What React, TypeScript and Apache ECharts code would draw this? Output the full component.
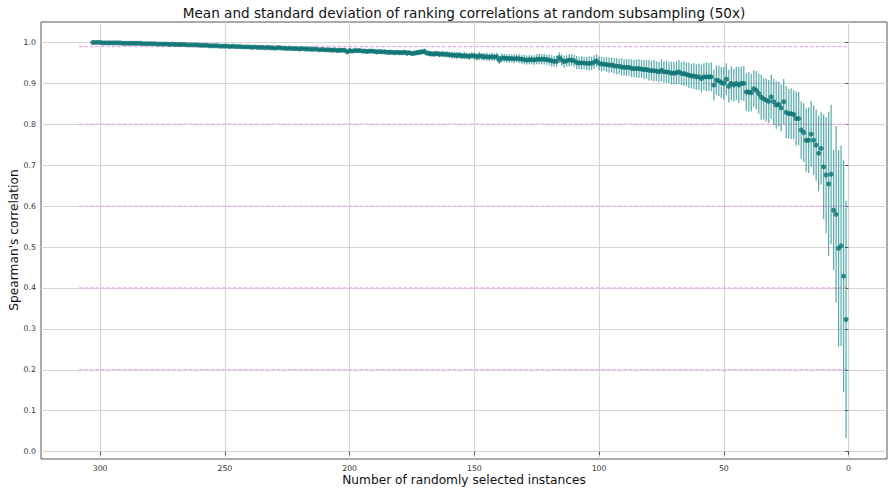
import React, { useEffect, useRef } from "react";
import * as echarts from "echarts";

// Subsample sizes: 1 .. 303 randomly selected instances
const sampleSizes: number[] = Array.from({ length: 303 }, (_, i) => i + 1);

// Mean Spearman correlation per subsample size (index 0 -> size 1)
const meanCorr: number[] = [
  0.323, 0.429, 0.503, 0.497, 0.580, 0.590, 0.678, 0.654, 0.676, 0.696,
  0.741, 0.729, 0.749, 0.761, 0.776, 0.761, 0.761, 0.780, 0.786, 0.814,
  0.814, 0.824, 0.826, 0.826, 0.829, 0.855, 0.840, 0.849, 0.847, 0.855,
  0.867, 0.856, 0.859, 0.862, 0.866, 0.875, 0.883, 0.887, 0.877, 0.879,
  0.879, 0.900, 0.900, 0.896, 0.900, 0.896, 0.900, 0.893, 0.910, 0.900,
  0.902, 0.906, 0.908, 0.896, 0.916, 0.916, 0.916, 0.916, 0.912, 0.916,
  0.916, 0.918, 0.918, 0.920, 0.922, 0.924, 0.924, 0.928, 0.926, 0.925,
  0.925, 0.927, 0.928, 0.928, 0.932, 0.928, 0.930, 0.931, 0.931, 0.932,
  0.934, 0.934, 0.935, 0.936, 0.936, 0.936, 0.937, 0.939, 0.939, 0.939,
  0.940, 0.942, 0.942, 0.943, 0.945, 0.945, 0.946, 0.947, 0.947, 0.949,
  0.955, 0.952, 0.949, 0.949, 0.949, 0.950, 0.950, 0.950, 0.951, 0.955,
  0.957, 0.957, 0.955, 0.953, 0.957, 0.963, 0.954, 0.954, 0.955, 0.957,
  0.958, 0.959, 0.959, 0.959, 0.959, 0.957, 0.958, 0.958, 0.957, 0.958,
  0.959, 0.960, 0.961, 0.960, 0.961, 0.961, 0.961, 0.962, 0.962, 0.957,
  0.965, 0.964, 0.965, 0.964, 0.965, 0.965, 0.966, 0.967, 0.965, 0.967,
  0.968, 0.966, 0.967, 0.968, 0.967, 0.969, 0.968, 0.969, 0.969, 0.970,
  0.971, 0.971, 0.972, 0.971, 0.973, 0.972, 0.972, 0.973, 0.974, 0.978,
  0.977, 0.976, 0.975, 0.974, 0.973, 0.975, 0.974, 0.976, 0.975, 0.975,
  0.976, 0.975, 0.976, 0.976, 0.976, 0.977, 0.977, 0.978, 0.977, 0.978,
  0.979, 0.979, 0.978, 0.979, 0.979, 0.980, 0.980, 0.980, 0.979, 0.980,
  0.977, 0.981, 0.981, 0.981, 0.980, 0.982, 0.981, 0.982, 0.982, 0.982,
  0.983, 0.982, 0.983, 0.984, 0.983, 0.984, 0.984, 0.984, 0.985, 0.984,
  0.985, 0.985, 0.985, 0.986, 0.985, 0.986, 0.986, 0.987, 0.987, 0.986,
  0.987, 0.987, 0.988, 0.987, 0.988, 0.988, 0.988, 0.989, 0.988, 0.989,
  0.989, 0.989, 0.989, 0.990, 0.990, 0.990, 0.991, 0.990, 0.991, 0.991,
  0.991, 0.991, 0.992, 0.992, 0.992, 0.992, 0.993, 0.993, 0.993, 0.993,
  0.994, 0.994, 0.994, 0.994, 0.994, 0.995, 0.995, 0.995, 0.995, 0.995,
  0.996, 0.995, 0.996, 0.996, 0.996, 0.996, 0.996, 0.997, 0.997, 0.997,
  0.997, 0.997, 0.997, 0.998, 0.998, 0.998, 0.998, 0.998, 0.998, 0.998,
  0.998, 0.999, 0.999, 0.999, 0.999, 0.999, 0.999, 0.999, 0.999, 1.000,
  1.000, 1.000, 1.000,
];

// Standard deviation over the 50 repetitions (index 0 -> size 1)
const stdCorr: number[] = [
  0.290, 0.283, 0.245, 0.240, 0.216, 0.147, 0.170, 0.176, 0.142, 0.128,
  0.088, 0.092, 0.087, 0.085, 0.081, 0.080, 0.078, 0.072, 0.070, 0.065,
  0.066, 0.060, 0.062, 0.060, 0.064, 0.056, 0.057, 0.055, 0.058, 0.056,
  0.054, 0.052, 0.053, 0.050, 0.055, 0.049, 0.047, 0.045, 0.046, 0.048,
  0.046, 0.043, 0.042, 0.044, 0.041, 0.040, 0.042, 0.040, 0.039, 0.040,
  0.038, 0.037, 0.036, 0.038, 0.035, 0.034, 0.035, 0.033, 0.034, 0.032,
  0.031, 0.032, 0.030, 0.031, 0.029, 0.030, 0.028, 0.029, 0.028, 0.027,
  0.028, 0.026, 0.027, 0.026, 0.027, 0.025, 0.024, 0.026, 0.024, 0.025,
  0.023, 0.024, 0.022, 0.023, 0.022, 0.021, 0.022, 0.020, 0.021, 0.020,
  0.021, 0.019, 0.020, 0.019, 0.018, 0.019, 0.018, 0.017, 0.018, 0.017,
  0.016, 0.017, 0.016, 0.017, 0.016, 0.015, 0.016, 0.015, 0.016, 0.015,
  0.014, 0.015, 0.014, 0.015, 0.014, 0.013, 0.014, 0.013, 0.014, 0.013,
  0.012, 0.013, 0.012, 0.013, 0.012, 0.012, 0.011, 0.012, 0.011, 0.012,
  0.011, 0.011, 0.010, 0.011, 0.010, 0.011, 0.010, 0.010, 0.011, 0.010,
  0.010, 0.009, 0.010, 0.009, 0.010, 0.009, 0.009, 0.010, 0.009, 0.009,
  0.008, 0.009, 0.008, 0.009, 0.008, 0.008, 0.009, 0.008, 0.008, 0.007,
  0.008, 0.007, 0.008, 0.007, 0.007, 0.008, 0.007, 0.007, 0.006, 0.007,
  0.006, 0.007, 0.006, 0.007, 0.006, 0.006, 0.007, 0.006, 0.006, 0.006,
  0.005, 0.006, 0.005, 0.006, 0.005, 0.006, 0.005, 0.005, 0.006, 0.005,
  0.005, 0.005, 0.005, 0.005, 0.004, 0.005, 0.004, 0.005, 0.004, 0.005,
  0.005, 0.004, 0.004, 0.005, 0.004, 0.004, 0.004, 0.004, 0.004, 0.004,
  0.004, 0.003, 0.004, 0.003, 0.004, 0.003, 0.004, 0.003, 0.003, 0.004,
  0.003, 0.003, 0.003, 0.003, 0.003, 0.003, 0.003, 0.003, 0.003, 0.003,
  0.003, 0.002, 0.003, 0.002, 0.003, 0.002, 0.003, 0.002, 0.002, 0.003,
  0.002, 0.002, 0.002, 0.002, 0.002, 0.002, 0.002, 0.002, 0.002, 0.002,
  0.002, 0.002, 0.002, 0.002, 0.002, 0.002, 0.002, 0.002, 0.001, 0.002,
  0.001, 0.001, 0.001, 0.001, 0.001, 0.001, 0.001, 0.001, 0.001, 0.001,
  0.001, 0.001, 0.001, 0.001, 0.001, 0.001, 0.001, 0.001, 0.001, 0.001,
  0.001, 0.001, 0.001, 0.001, 0.001, 0.001, 0.001, 0.001, 0.001, 0.001,
  0.001, 0.001, 0.001, 0.001, 0.001, 0.001, 0.001, 0.001, 0.001, 0.000,
  0.000, 0.000, 0.000,
];

// Reference levels drawn as dashed guides, and their horizontal span
const guideLevels: number[] = [0.99, 0.8, 0.6, 0.4, 0.2];
const guideSpan: number[] = [308.5, 0];

// Tick values
const xTicks: number[] = [300, 250, 200, 150, 100, 50, 0];
const yTicks: number[] = [0, 0.1, 0.2, 0.3, 0.4, 0.5, 0.6, 0.7, 0.8, 0.9, 1.0];

const FONT = "DejaVu Sans";

export default function App() {
  const ref = useRef<HTMLDivElement>(null);

  useEffect(() => {
    if (!ref.current) return;
    const chart = echarts.init(ref.current, undefined, { renderer: "svg" });

    const points = sampleSizes.map((n, i) => [n, meanCorr[i]]);
    const bars = sampleSizes.map((n, i) => [
      n,
      meanCorr[i] - stdCorr[i],
      meanCorr[i] + stdCorr[i],
    ]);

    const guideSeries = guideLevels.map((lvl) => ({
      type: "line",
      data: guideSpan.map((x) => [x, lvl]),
      symbol: "none",
      silent: true,
      z: 1,
      lineStyle: { color: "#e9b2e9", width: 1.5, type: [3.5, 2] },
    }));

    chart.setOption({
      animation: false,
      backgroundColor: "#ffffff",
      graphic: [
        {
          type: "text",
          x: 464,
          y: 13,
          style: {
            text: "Mean and standard deviation of ranking correlations at random subsampling (50x)",
            font: `13.6px "${FONT}"`,
            fill: "#111",
            textAlign: "center",
            textVerticalAlign: "middle",
          },
        },
        {
          type: "text",
          x: 464,
          y: 479.5,
          style: {
            text: "Number of randomly selected instances",
            font: `12.2px "${FONT}"`,
            fill: "#111",
            textAlign: "center",
            textVerticalAlign: "middle",
          },
        },
        {
          type: "text",
          x: 14,
          y: 240,
          rotation: Math.PI / 2,
          style: {
            text: "Spearman's correlation",
            font: `12.2px "${FONT}"`,
            fill: "#111",
            textAlign: "center",
            textVerticalAlign: "middle",
          },
        },
      ],
      grid: {
        left: 41,
        top: 22,
        width: 846,
        height: 437,
        outerBoundsMode: "none",
        containLabel: false,
        show: true,
        borderColor: "#555",
        borderWidth: 1,
        backgroundColor: "transparent",
      },
      xAxis: {
        type: "value",
        inverse: true,
        min: -15.4,
        max: 323.7,
        axisLine: { show: false },
        axisTick: {
          show: true,
          length: 3.5,
          lineStyle: { color: "#555" },
          customValues: xTicks,
        },
        axisLabel: {
          fontFamily: FONT,
          fontSize: 7.8,
          color: "#333",
          margin: 5,
          customValues: xTicks,
        },
        splitLine: { show: true, lineStyle: { color: "#d6d6d6", width: 1.1 } },
      },
      yAxis: {
        type: "value",
        min: -0.018,
        max: 1.05,
        axisLine: { show: false },
        axisTick: {
          show: true,
          length: 3.5,
          lineStyle: { color: "#555" },
          customValues: yTicks,
        },
        axisLabel: {
          fontFamily: FONT,
          fontSize: 7.8,
          color: "#333",
          margin: 5,
          customValues: yTicks,
          formatter: (v: number) => v.toFixed(1),
        },
        splitLine: { show: true, lineStyle: { color: "#d6d6d6", width: 1.1 } },
      },
      series: [
        ...guideSeries,
        {
          type: "custom",
          z: 2,
          data: bars,
          encode: { x: 0, y: [1, 2] },
          renderItem: (_params: any, api: any) => {
            const x = api.value(0);
            const lo = api.coord([x, api.value(1)]);
            const hi = api.coord([x, api.value(2)]);
            return {
              type: "line",
              shape: { x1: lo[0], y1: lo[1], x2: hi[0], y2: hi[1] },
              style: { stroke: "rgba(0,128,128,0.62)", lineWidth: 1.3 },
            };
          },
        },
        {
          type: "scatter",
          z: 3,
          data: points,
          symbol: "circle",
          symbolSize: 5,
          itemStyle: { color: "#0a7272" },
        },
      ],
    });

    return () => chart.dispose();
  }, []);

  return (
    <div
      ref={ref}
      style={{ position: "fixed", left: 0, top: 0, width: 889, height: 488 }}
    />
  );
}
